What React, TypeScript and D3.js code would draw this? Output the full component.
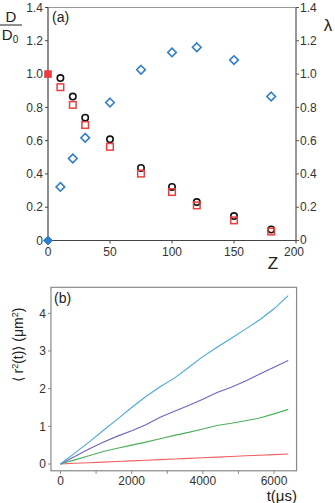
import React from 'react'
import * as d3 from 'd3'

// panel (a) data
const zValues = [10, 20, 30, 50, 75, 100, 120, 150, 180]
const dCircles = [0.976, 0.865, 0.738, 0.608, 0.436, 0.322, 0.231, 0.147, 0.066]
const dSquares = [0.921, 0.815, 0.694, 0.563, 0.402, 0.291, 0.211, 0.121, 0.054]
const lambdaDiamonds = [0.322, 0.493, 0.617, 0.829, 1.026, 1.13, 1.161, 1.084, 0.865]
const aYTicks = [0, 0.2, 0.4, 0.6, 0.8, 1.0, 1.2, 1.4]
const aXTicks = [0, 50, 100, 150, 200]

// panel (b) data
const tValues = [0, 400, 800, 1200, 1600, 2000, 2400, 2800, 3200, 3600, 4000, 4400, 4800, 5200, 5600, 6000, 6400]
const cyanMsd = [0, 0.29, 0.58, 0.89, 1.19, 1.5, 1.79, 2.05, 2.28, 2.56, 2.85, 3.1, 3.34, 3.58, 3.83, 4.12, 4.47]
const purpleMsd = [0, 0.2, 0.4, 0.58, 0.74, 0.88, 1.04, 1.24, 1.4, 1.55, 1.72, 1.9, 2.04, 2.2, 2.39, 2.57, 2.75]
const greenMsd = [0, 0.11, 0.22, 0.33, 0.42, 0.5, 0.58, 0.67, 0.76, 0.84, 0.93, 1.02, 1.08, 1.15, 1.22, 1.33, 1.45]
const redMsd = [0, 0.018, 0.035, 0.05, 0.066, 0.083, 0.1, 0.117, 0.133, 0.15, 0.167, 0.183, 0.2, 0.217, 0.233, 0.25, 0.265]
const bYTicks = [0, 1, 2, 3, 4]
const bXMajor = [0, 2000, 4000, 6000]
const bXMinor = [1000, 3000, 5000]

const font = "'Liberation Sans', Arial, sans-serif"
const txt = '#333'

export default function App() {
  // panel (a) scales
  const ax = d3.scaleLinear().domain([0, 200]).range([48, 296])
  const ay = d3.scaleLinear().domain([0, 1.4]).range([240.5, 7.5])

  // panel (b) scales
  const bx = d3.scaleLinear().domain([0, 6000]).range([60.5, 274])
  const by = d3.scaleLinear().domain([0, 4]).range([464, 313.3])
  const bTop = by(4.69)
  const bBottom = by(-0.18)
  const bLeft = bx(-268)
  const bRight = bx(6634)

  const line = d3.line<number>().x((_, i) => bx(tValues[i])).y(d => by(d))
  const series = [
    { vals: redMsd, color: '#f06060' },
    { vals: greenMsd, color: '#4caf5a' },
    { vals: purpleMsd, color: '#6f63c0' },
    { vals: cyanMsd, color: '#4aa8e0' },
  ]

  const diamond = (cx: number, cy: number, r: number) =>
    `M${cx},${cy - r}L${cx + r},${cy}L${cx},${cy + r}L${cx - r},${cy}Z`

  return (
    <svg width={335} height={503} style={{ position: 'absolute', left: 0, top: 0 }} fontFamily={font}>
      {/* ---------- panel (a) ---------- */}
      <line x1={ax(0)} x2={ax(200)} y1={ay(1.4)} y2={ay(1.4)} stroke="#999" strokeWidth={1} />
      <line x1={ax(0)} x2={ax(0)} y1={ay(1.4)} y2={ay(0)} stroke="#444" strokeWidth={1.2} />
      <line x1={ax(200)} x2={ax(200)} y1={ay(1.4)} y2={ay(0)} stroke="#555" strokeWidth={1.2} />
      <line x1={ax(0)} x2={ax(200)} y1={ay(0)} y2={ay(0)} stroke="#444" strokeWidth={1.2} />
      {aYTicks.map(t => (
        <g key={'ay' + t}>
          <line x1={ax(0) - 3} x2={ax(0)} y1={ay(t)} y2={ay(t)} stroke="#444" />
          <line x1={ax(200)} x2={ax(200) + 3} y1={ay(t)} y2={ay(t)} stroke="#555" />
          <text x={ax(0) - 5} y={ay(t)} dy="0.35em" textAnchor="end" fontSize={12} fill={txt}>
            {t === 0 ? '0' : t.toFixed(1)}
          </text>
          <text x={ax(200) + 4} y={t === 0 ? ay(t) - 1 : ay(t)} dy="0.35em" textAnchor="start" fontSize={12} fill={txt}>
            {t === 0 ? '0' : t.toFixed(1)}
          </text>
        </g>
      ))}
      {aXTicks.map(t => (
        <g key={'ax' + t}>
          <line x1={ax(t)} x2={ax(t)} y1={ay(0)} y2={ay(0) + 3} stroke="#444" />
          <text x={t === 200 ? ax(t) - 2 : ax(t)} y={ay(0) + 15} textAnchor="middle" fontSize={12} fill={txt}>{t}</text>
        </g>
      ))}
      <text x={52} y={22} fontSize={14} fill="#222">(a)</text>
      <text x={273} y={269} textAnchor="middle" fontSize={17} fill="#222">Z</text>
      <text x={328} y={31} textAnchor="middle" fontSize={17} fill="#222">λ</text>
      <text x={11} y={22} textAnchor="middle" fontSize={15} fill="#222">D</text>
      <line x1={0} x2={22} y1={25} y2={25} stroke="#222" strokeWidth={1} />
      <text x={10} y={40} textAnchor="middle" fontSize={15} fill="#222">
        D<tspan fontSize={10} dy={3}>0</tspan>
      </text>

      {/* blue diamonds (λ) */}
      {zValues.map((z, i) => (
        <path key={'dm' + z} d={diamond(ax(z), ay(lambdaDiamonds[i]), 4.3)} fill="none" stroke="#2f7dcc" strokeWidth={1.6} />
      ))}
      <path d={diamond(ax(0), ay(0), 4.5)} fill="#2f7dcc" stroke="#2f7dcc" />
      {/* black circles */}
      {zValues.map((z, i) => (
        <circle key={'c' + z} cx={ax(z)} cy={ay(dCircles[i])} r={3.2} fill="none" stroke="#111" strokeWidth={1.6} />
      ))}
      {/* red squares */}
      {zValues.map((z, i) => (
        <rect key={'s' + z} x={ax(z) - 3.3} y={ay(dSquares[i]) - 3.3} width={6.6} height={6.6} fill="none" stroke="#f03c3c" strokeWidth={1.5} />
      ))}
      <rect x={ax(0) - 3.8} y={ay(1) - 3.8} width={7.6} height={7.6} fill="#f03c3c" />

      {/* ---------- panel (b) ---------- */}
      <rect x={bLeft} y={bTop} width={bRight - bLeft} height={bBottom - bTop} fill="none" stroke="#888" strokeWidth={1.2} />
      {bYTicks.map(t => (
        <g key={'by' + t}>
          <line x1={bLeft - 3} x2={bLeft} y1={by(t)} y2={by(t)} stroke="#888" />
          <text x={bLeft - 5} y={by(t)} dy="0.35em" textAnchor="end" fontSize={12} fill={txt}>{t}</text>
        </g>
      ))}
      {bXMajor.map(t => (
        <g key={'bx' + t}>
          <line x1={bx(t)} x2={bx(t)} y1={bBottom} y2={bBottom + 3} stroke="#888" />
          <text x={bx(t)} y={bBottom + 14} textAnchor="middle" fontSize={12} fill={txt}>{t}</text>
        </g>
      ))}
      {bXMinor.map(t => (
        <line key={'bm' + t} x1={bx(t)} x2={bx(t)} y1={bBottom} y2={bBottom + 3} stroke="#888" />
      ))}
      {series.map(s => (
        <path key={s.color} d={line(s.vals) || ''} fill="none" stroke={s.color} strokeWidth={1.1} />
      ))}
      <text x={54} y={303} fontSize={14} fill="#222">(b)</text>
      <text x={297} y={501} textAnchor="end" fontSize={15} fill="#222">t(μs)</text>
      <text transform="translate(23,345) rotate(-90)" textAnchor="middle" fontSize={14} fill="#222">
        ⟨ r<tspan fontSize={9} dy={-5}>2</tspan><tspan dy={5}>(t)⟩  (μm</tspan><tspan fontSize={9} dy={-5}>2</tspan><tspan dy={5}>)</tspan>
      </text>
    </svg>
  )
}
